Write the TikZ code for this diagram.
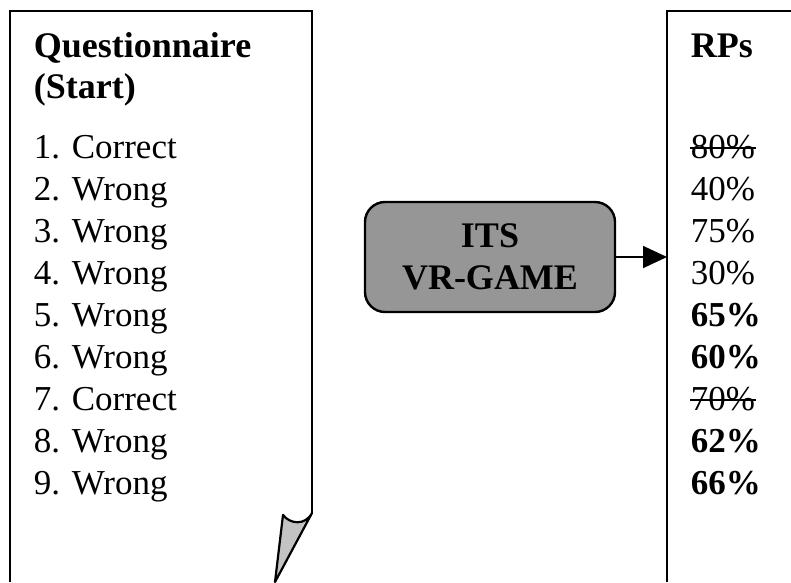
\documentclass[tikz,border=0pt]{standalone}
\usepackage{fontspec}
\setmainfont{Liberation Serif}
\usetikzlibrary{calc}
\usetikzlibrary{arrows.meta}
\definecolor{BoxGray}{RGB}{150,150,150}
\definecolor{FoldGray}{RGB}{195,195,195}

\begin{document}
\begin{tikzpicture}[x=1pt, y=-1pt, line width=1.8pt,
		Pfeil/.style={arrows = -{Triangle[length=24pt, width=22pt]}},
		Eintrag/.style={anchor=base west, inner sep=0pt, font=\fontsize{35}{42}\selectfont},
		Spiel/.style={draw, line width=2.4pt, rounded corners=20pt, fill=BoxGray, minimum width=250pt, minimum height=110pt, align=center, font=\fontsize{36}{42}\selectfont\bfseries}]
				\useasboundingbox (0,0) rectangle (791,582);
				% questionnaire sheet with folded corner
				\draw (10,582) -- (10,11) -- (312,11) -- (312,513);
				\draw[fill=FoldGray, line join=round, line width=2.2pt] (312,513) .. controls (305,526) and (290,524) .. (283,515) -- (275,582) -- cycle;
				% RPs sheet
				\draw (791,11) -- (667,11) -- (667,582);
				\coordinate (a) at (33,57);
				\node[Eintrag, font=\fontsize{36}{42}\selectfont\bfseries] (qh1) at (a) {Questionnaire};
				\node[Eintrag, font=\fontsize{36}{42}\selectfont\bfseries] (qh2) at ($(a) + (0,41)$) {(Start)};
				\coordinate (b) at (690,57);
				\node[Eintrag, font=\fontsize{36}{42}\selectfont\bfseries] (rh) at (b) {RPs};
				\foreach \t [count=\i] in {Correct,Wrong,Wrong,Wrong,Wrong,Wrong,Correct,Wrong,Wrong}
					\node[Eintrag] (q\i) at ($(a) + (0,{101+42*(\i-1)})$) {\i. \t};
				\foreach \v [count=\i] in {80\%,40\%,75\%,30\%,\textbf{65\%},\textbf{60\%},70\%,\textbf{62\%},\textbf{66\%}}
					\node[Eintrag] (r\i) at ($(b) + (0,{101+42*(\i-1)})$) {\v};
				% struck out values
				\foreach \i in {1,7}
					\draw[line width=1.5pt] ($(r\i.base west) + (0,-10)$) -- ($(r\i.base east) + (0,-10)$);
				\node[Spiel] (its) at (490,257) {ITS\\VR-GAME};
				\coordinate (rp) at (667,257);
				\draw[Pfeil] (its) -- (rp);
			\end{tikzpicture}
\end{document}
